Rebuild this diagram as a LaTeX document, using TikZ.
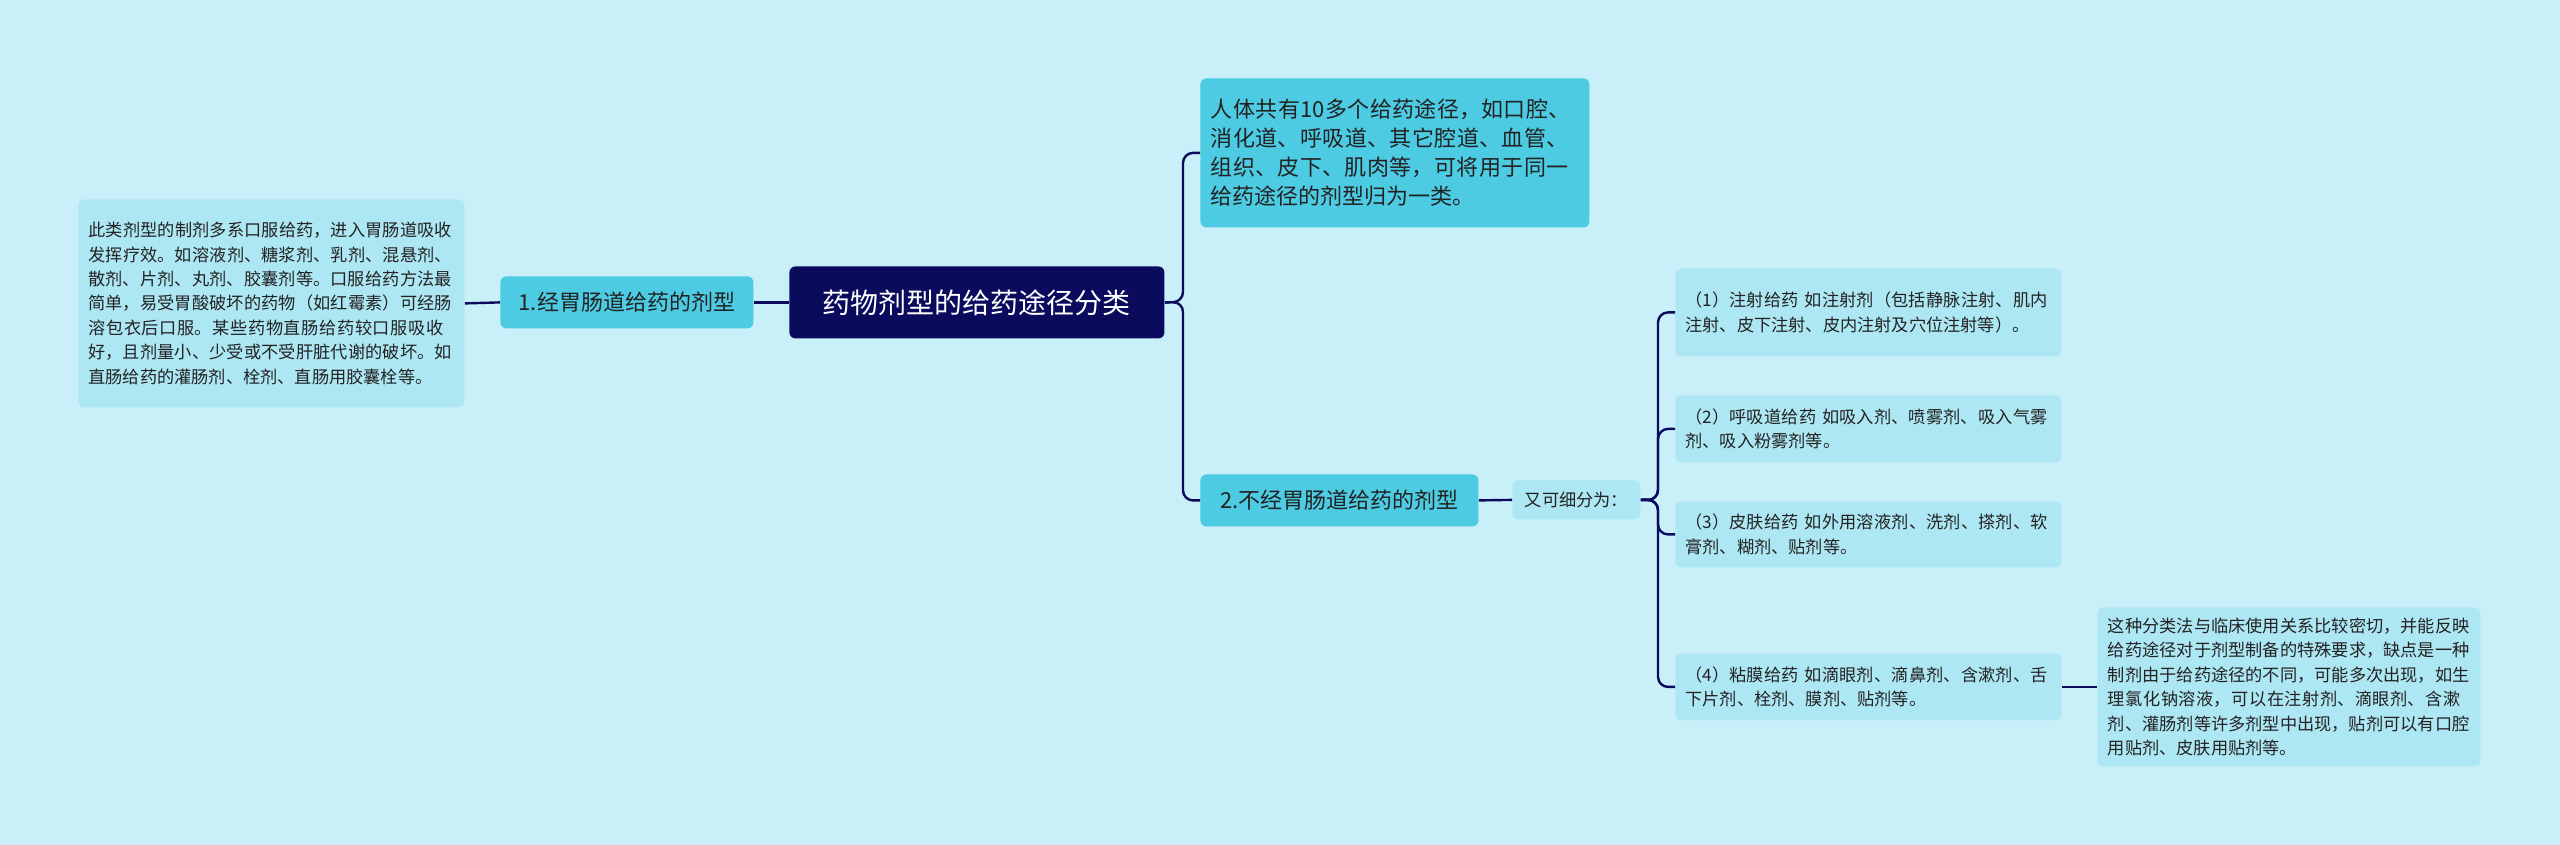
\documentclass[tikz,border=0pt]{standalone}
\usepackage{fontspec}
\setmainfont{Noto Sans CJK SC}
\XeTeXlinebreaklocale "zh"
\XeTeXlinebreakskip=0pt plus 1pt
\definecolor{bg}{HTML}{C9F0F8}
\definecolor{navy}{HTML}{0B0B5E}
\definecolor{mid}{HTML}{4CCBE3}
\definecolor{lite}{HTML}{AEE7F4}
\definecolor{ink}{HTML}{222222}
\begin{document}
\begin{tikzpicture}[x=0.5pt,y=-0.5pt,
  box/.style={rounded corners=3pt,inner xsep=5pt,inner ysep=0pt,anchor=north west},
  small/.style={font=\fontsize{8.6}{12.2}\selectfont,text=ink,align=left},
  link/.style={draw=navy,line width=1.2pt,rounded corners=5pt}]
\fill[bg] (0,0) rectangle (2560,845);
% center
\node[box,fill=navy,minimum width=187.5pt,minimum height=36pt,text=white,font=\fontsize{14}{16}\selectfont] (c) at (789,266) {药物剂型的给药途径分类};
% left
\node[box,fill=mid,minimum width=126.5pt,minimum height=26pt,text=ink,font=\fontsize{11}{13}\selectfont] (l1) at (500,276) {1.经胃肠道给药的剂型};
\node[box,fill=lite,minimum width=193pt,minimum height=104pt,small,text width=183pt] (lt) at (78,199) {此类剂型的制剂多系口服给药，进入胃肠道吸收发挥疗效。如溶液剂、糖浆剂、乳剂、混悬剂、散剂、片剂、丸剂、胶囊剂等。口服给药方法最简单，易受胃酸破坏的药物（如红霉素）可经肠溶包衣后口服。某些药物直肠给药较口服吸收好，且剂量小、少受或不受肝脏代谢的破坏。如直肠给药的灌肠剂、栓剂、直肠用胶囊栓等。};
% right top
\node[box,fill=mid,minimum width=194.5pt,minimum height=74.5pt,text=ink,align=left,text width=184pt,font=\fontsize{11}{14.5}\selectfont] (rt) at (1200,78) {人体共有10多个给药途径，如口腔、消化道、呼吸道、其它腔道、血管、组织、皮下、肌肉等，可将用于同一给药途径的剂型归为一类。};
\node[box,fill=mid,minimum width=139pt,minimum height=26pt,text=ink,font=\fontsize{11}{13}\selectfont] (r2) at (1200,474) {2.不经胃肠道给药的剂型};
\node[box,fill=lite,minimum width=64pt,minimum height=19.5pt,small] (sub) at (1512,480) {又可细分为：};
\node[box,fill=lite,minimum width=193pt,minimum height=44pt,small,text width=183pt] (i1) at (1675,268) {（1）注射给药 如注射剂（包括静脉注射、肌内注射、皮下注射、皮内注射及穴位注射等）。};
\node[box,fill=lite,minimum width=193pt,minimum height=33.5pt,small,text width=183pt] (i2) at (1675,395) {（2）呼吸道给药 如吸入剂、喷雾剂、吸入气雾剂、吸入粉雾剂等。};
\node[box,fill=lite,minimum width=193pt,minimum height=33pt,small,text width=183pt] (i3) at (1675,501) {（3）皮肤给药 如外用溶液剂、洗剂、搽剂、软膏剂、糊剂、贴剂等。};
\node[box,fill=lite,minimum width=193pt,minimum height=33.5pt,small,text width=183pt] (i4) at (1675,653) {（4）粘膜给药 如滴眼剂、滴鼻剂、含漱剂、舌下片剂、栓剂、膜剂、贴剂等。};
\node[box,fill=lite,minimum width=191.5pt,minimum height=79.5pt,small,text width=181pt] (fr) at (2097,607) {这种分类法与临床使用关系比较密切，并能反映给药途径对于剂型制备的特殊要求，缺点是一种制剂由于给药途径的不同，可能多次出现，如生理氯化钠溶液，可以在注射剂、滴眼剂、含漱剂、灌肠剂等许多剂型中出现，贴剂可以有口腔用贴剂、皮肤用贴剂等。};
% links
\draw[link] (c.west) -- (l1.east);
\draw[link] (l1.west) -- (lt.east);
\draw[link] (c.east) -- (1183,302) |- (rt.west);
\draw[link] (c.east) -- (1183,302) |- (r2.west);
\draw[link] (r2.east) -- (sub.west);
\foreach \n in {i1,i2,i3,i4}{\draw[link] (sub.east) -- (1658,500) |- (\n.west);}
\draw[link] (i4.east) -- (fr.west);
\end{tikzpicture}
\end{document}
